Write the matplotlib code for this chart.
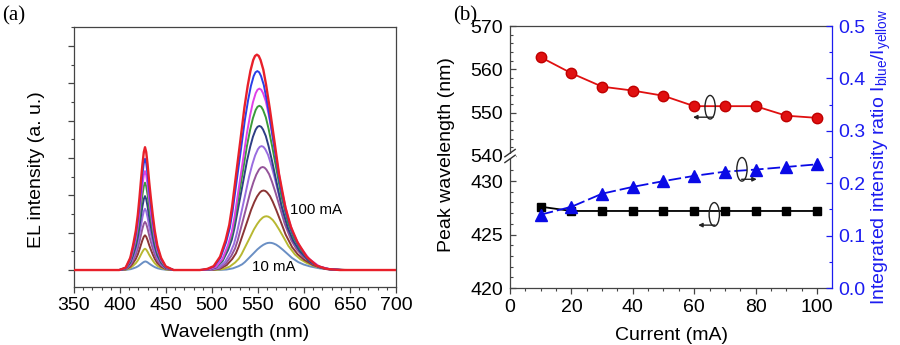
import numpy as np
import matplotlib
matplotlib.use('Agg')
import matplotlib.pyplot as plt
from matplotlib.patches import Ellipse, Rectangle
from matplotlib.ticker import FixedLocator, MultipleLocator

plt.rcParams['font.family'] = ['Liberation Sans', 'DejaVu Sans']
plt.rcParams['mathtext.fontset'] = 'custom'
plt.rcParams['mathtext.rm'] = 'Liberation Sans'
plt.rcParams['mathtext.it'] = 'Liberation Sans:italic'

# ---------------- data ----------------
currents = [10, 20, 30, 40, 50, 60, 70, 80, 90, 100]
blue_peak_nm = [427.6, 427.2, 427.2, 427.2, 427.2, 427.2, 427.2, 427.2, 427.2, 427.2]
yellow_peak_nm = [562.8, 559.1, 556.0, 555.1, 553.9, 551.5, 551.5, 551.5, 549.3, 548.8]
ratio_blue_yellow = [0.140, 0.155, 0.180, 0.193, 0.204, 0.214, 0.222, 0.226, 0.231, 0.236]

# EL peak heights (a.u.) per current
blue_height = [0.23, 0.57, 0.93, 1.29, 1.64, 1.98, 2.34, 2.65, 2.98, 3.29]
yellow_height = [0.73, 1.44, 2.13, 2.76, 3.32, 3.86, 4.40, 4.86, 5.33, 5.77]

# normalized band shapes (offset from peak, nm)
blue_shape_offset = [-28, -21, -16, -13, -10, -7.8, -6, -4.5, -2.8, -1.3, 0,
                     1.3, 2.8, 4.5, 6.3, 8.4, 10.6, 13.4, 17.4, 22.5, 31]
blue_shape_value = [0, 0.02, 0.10, 0.20, 0.32, 0.45, 0.59, 0.72, 0.86, 0.96, 1.0,
                    0.96, 0.86, 0.72, 0.59, 0.45, 0.32, 0.20, 0.10, 0.03, 0]
yellow_shape_offset = [-62, -54, -47, -40, -34, -30, -27, -22.5, -18, -13.5, -10, -7, -4, -2, 0,
                       2, 4, 7, 10, 14, 19, 24, 31, 37, 44, 54, 65, 76, 90]
yellow_shape_value = [0.0, 0.005, 0.018, 0.062, 0.139, 0.21, 0.293, 0.447, 0.60, 0.756, 0.855, 0.925, 0.975, 0.994, 1.0,
                      0.994, 0.975, 0.93, 0.86, 0.75, 0.60, 0.447, 0.29, 0.20, 0.13, 0.062, 0.02, 0.005, 0.0]

curve_colors = ['#6a8fc4', '#b8b832', '#8b3535', '#95559a', '#9a6de0',
                '#2e3d86', '#3a9a3a', '#e040e8', '#2a3ee8', '#e8202a']

# ---------------- figure ----------------
fig = plt.figure(figsize=(9, 3.45), dpi=100)
axA = fig.add_axes([0.0822, 0.168, 0.3578, 0.7536])
axB = fig.add_axes([0.5667, 0.1652, 0.3574, 0.7594])

# ----- panel (a) -----
bo = np.array(blue_shape_offset)
bv = np.array(blue_shape_value)
yo = np.array(yellow_shape_offset)
yv = np.array(yellow_shape_value)
for i in range(len(currents)):
    x = np.concatenate([[350], blue_peak_nm[i] + bo, yellow_peak_nm[i] + yo, [700]])
    y = np.concatenate([[0], blue_height[i] * bv, yellow_height[i] * yv, [0]])
    axA.plot(x, y, color=curve_colors[i], lw=1.7 if i == 9 else 1.4, zorder=2 + i,
             solid_joinstyle='round')

axA.set_xlim(350, 700)
axA.set_ylim(-0.456, 6.51)
axA.xaxis.set_major_locator(MultipleLocator(50))
axA.xaxis.set_minor_locator(MultipleLocator(10))
axA.yaxis.set_major_locator(MultipleLocator(1))
axA.yaxis.set_minor_locator(MultipleLocator(0.5))
axA.set_yticklabels([])
axA.tick_params(which='both', direction='out', top=False, right=False, color='#444444')
axA.tick_params(which='major', length=4.5, width=0.9, labelsize=14, pad=3)
axA.tick_params(which='minor', length=2.5, width=0.8)
for s in axA.spines.values():
    s.set_color('#444444')
    s.set_linewidth(0.9)
axA.set_xlabel('Wavelength (nm)', fontsize=14)
axA.xaxis.set_label_coords(0.5, -0.142)
axA.set_ylabel('EL intensity (a. u.)', fontsize=14)
axA.yaxis.set_label_coords(-0.09, 0.45)
axA.text(584.5, 1.61, '100 mA', fontsize=10.8, va='center', ha='left', zorder=20)
axA.text(543.5, 0.08, '10 mA', fontsize=10.8, va='center', ha='left', zorder=20)
fig.text(0.002, 0.955, '(a)', fontsize=15, family=['Liberation Serif'], va='center', ha='left')
fig.text(0.503, 0.955, '(b)', fontsize=15, family=['Liberation Serif'], va='center', ha='left')

# ----- panel (b) -----
LOW_TOP = 432.34
GAP_HI = 540.0
SQ = 0.405


def fwd(v):
    v = np.asarray(v, dtype=float)
    return np.where(v <= LOW_TOP, v, np.where(v >= GAP_HI, LOW_TOP + (v - GAP_HI) * SQ, LOW_TOP))


def inv(z):
    z = np.asarray(z, dtype=float)
    return np.where(z <= LOW_TOP, z, GAP_HI + (z - LOW_TOP) / SQ)


axB.set_yscale('function', functions=(fwd, inv))
axB.set_ylim(420, 570)
axB.set_xlim(0, 104.8)

axB.plot(currents, yellow_peak_nm, '-o', color='#e01010', mfc='#e01010', mec='#c00000',
         ms=7.5, lw=1.3, zorder=4)
axB.plot(currents, blue_peak_nm, '-s', color='black', ms=6, lw=1.3, zorder=4)

axB.yaxis.set_major_locator(FixedLocator([420, 425, 430, 540, 550, 560, 570]))
axB.yaxis.set_minor_locator(FixedLocator([421, 422, 423, 424, 426, 427, 428, 429, 431,
                                          542, 544, 546, 548, 552, 554, 556, 558, 562, 564, 566, 568]))
axB.yaxis.set_major_formatter(plt.FuncFormatter(lambda v, p: '%d' % round(v)))
axB.xaxis.set_major_locator(MultipleLocator(20))
axB.xaxis.set_minor_locator(MultipleLocator(5))
axB.tick_params(axis='y', which='both', direction='in', right=False, color='#444444')
axB.tick_params(axis='y', which='major', length=4.5, width=0.9, labelsize=14, pad=5)
axB.tick_params(axis='y', which='minor', length=2.5, width=0.8)
axB.tick_params(axis='x', which='both', direction='out', top=False, color='#444444')
axB.tick_params(axis='x', which='major', length=4, width=0.9, labelsize=14, pad=4)
axB.tick_params(axis='x', which='minor', length=2.2, width=0.8)
for s in axB.spines.values():
    s.set_color('#444444')
    s.set_linewidth(0.9)
axB.spines['right'].set_visible(False)
axB.set_xlabel('Current (mA)', fontsize=14)
axB.xaxis.set_label_coords(0.503, -0.149)
axB.set_ylabel('Peak wavelength (nm)', fontsize=14)
axB.yaxis.set_label_coords(-0.171, 0.508)

# break mark on left axis
yb = float((fwd(540) - fwd(420)) / (fwd(570) - fwd(420)))
axB.add_patch(Rectangle((-0.02, yb - 0.008), 0.04, 0.016, transform=axB.transAxes,
                        facecolor='white', edgecolor='none', clip_on=False, zorder=10))
for dy in (-0.011, 0.011):
    axB.plot([-0.016, 0.016], [yb + dy - 0.014, yb + dy + 0.014], transform=axB.transAxes,
             color='#333333', lw=1.0, clip_on=False, zorder=11)

# right axis
blue = '#1c1cf0'
axR = axB.twinx()
axR.set_ylim(0, 0.5)
axR.plot(currents, ratio_blue_yellow, '^', color='#0a0ae6', ms=8.5, zorder=4,
         ls=(0, (7, 2.2)), lw=1.3)
axR.yaxis.set_major_locator(MultipleLocator(0.1))
axR.yaxis.set_minor_locator(MultipleLocator(0.05))
axR.yaxis.set_major_formatter(plt.FuncFormatter(lambda v, p: '%.1f' % v))
axR.tick_params(axis='y', which='both', direction='in', colors=blue)
axR.tick_params(axis='y', which='major', length=4.5, width=0.9, labelsize=14, pad=4.5)
axR.tick_params(axis='y', which='minor', length=2.5, width=0.8)
for k in ('left', 'top', 'bottom'):
    axR.spines[k].set_visible(False)
axR.spines['right'].set_color(blue)
axR.spines['right'].set_linewidth(0.9)
axR.set_ylabel('Integrated intensity ratio I$_{\\mathrm{blue}}$/I$_{\\mathrm{yellow}}$',
               fontsize=14, color=blue)
axR.yaxis.set_label_coords(1.12, 0.5)

# axis-indicator ellipses and arrows
ann = [((0.622, 0.690), (0.631, 0.652), (0.569, 0.652)),
       ((0.721, 0.453), (0.720, 0.415), (0.767, 0.415)),
       ((0.635, 0.281), (0.637, 0.240), (0.585, 0.240))]
for (c, a0, a1) in ann:
    axR.add_patch(Ellipse(c, 0.032, 0.09, transform=axR.transAxes, fill=False,
                          edgecolor='#222222', lw=1.0, zorder=6))
    axR.annotate('', xy=a1, xytext=a0, xycoords='axes fraction', textcoords='axes fraction',
                 arrowprops=dict(arrowstyle='-|>', color='#222222', lw=1.0,
                                 mutation_scale=6, shrinkA=0, shrinkB=0), zorder=6)

fig.savefig('out.png', dpi=100)
